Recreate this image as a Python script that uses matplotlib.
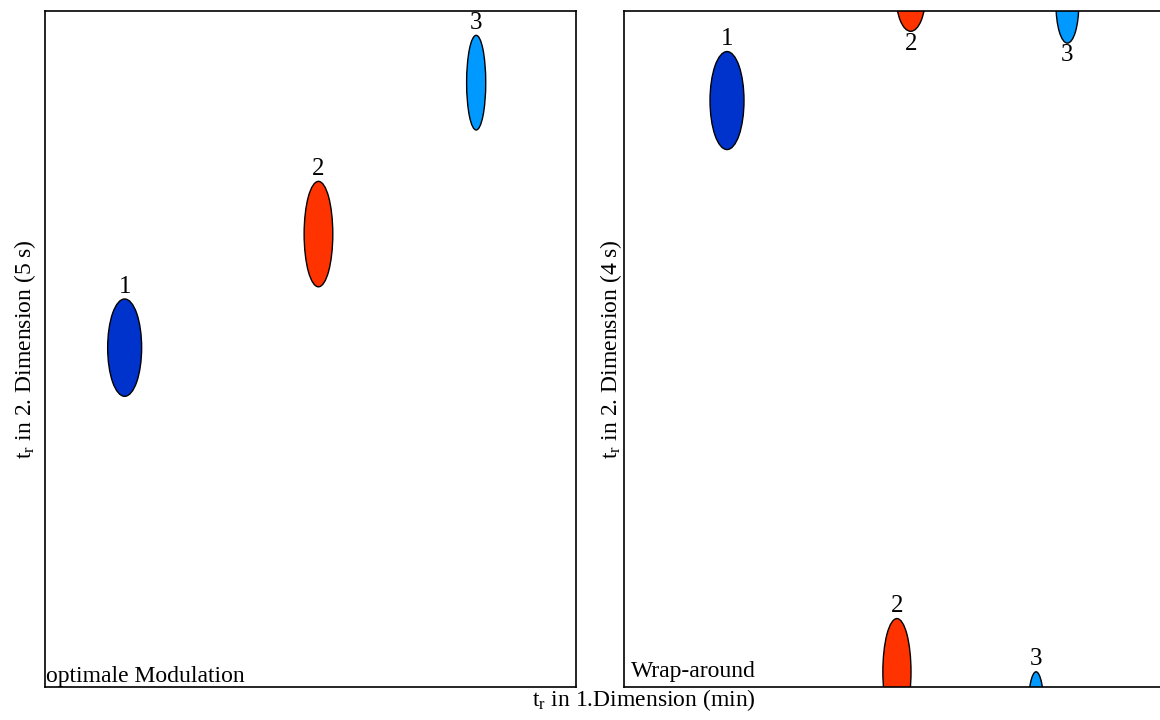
import matplotlib
matplotlib.use('Agg')
import matplotlib.pyplot as plt
from matplotlib.patches import Ellipse

plt.rcParams['font.family'] = ['Liberation Serif', 'DejaVu Serif']
plt.rcParams['mathtext.fontset'] = 'custom'
plt.rcParams['mathtext.rm'] = 'Liberation Serif'

# peak colours, one per compound
colors = ['#0033CC', '#FF3300', '#0099FF']
peak_names = ['1', '2', '3']

# optimal modulation: x in min, y in s (5 s period)
opt_x = [1.50, 5.15, 8.12]
opt_y = [2.51, 3.35, 4.47]
opt_w = [0.64, 0.54, 0.36]
opt_h = [0.72, 0.78, 0.70]

# wrap-around (4 s period): pieces of each peak that show up in the window
wrap_peak = [0, 1, 1, 2, 2]
wrap_x = [1.94, 5.14, 5.40, 7.76, 8.35]
wrap_y = [3.47, 0.09, 4.10, -0.14, 4.04]
wrap_w = [0.64, 0.53, 0.56, 0.30, 0.43]
wrap_h = [0.58, 0.63, 0.44, 0.46, 0.46]

FS = 17


def draw_peaks(ax, idx, xs, ys, ws, hs, ytop):
    for i, x, y, w, h in zip(idx, xs, ys, ws, hs):
        ax.add_patch(Ellipse((x, y), w, h, facecolor=colors[i],
                             edgecolor='black', linewidth=1.0))
        if y + h / 2 < ytop:
            ax.annotate(peak_names[i], xy=(x, y + h / 2), xytext=(0, 1),
                        textcoords='offset points', ha='center', va='bottom',
                        fontsize=18)
        else:
            ax.annotate(peak_names[i], xy=(x, y - h / 2), xytext=(0, -1),
                        textcoords='offset points', ha='center', va='top',
                        fontsize=18)


def style(ax, xmax, ymax):
    ax.set_xlim(0, xmax)
    ax.set_ylim(0, ymax)
    ax.set_xticks([])
    ax.set_yticks([])
    for s in ax.spines.values():
        s.set_linewidth(1.2)


fig = plt.figure(figsize=(11.6, 7.2), dpi=100)
W, H = 1160., 720.

ax1 = fig.add_axes([45 / W, 33 / H, 531 / W, 676 / H])
style(ax1, 10, 5)
draw_peaks(ax1, [0, 1, 2], opt_x, opt_y, opt_w, opt_h, 5)
ax1.text(0.002, 0.0, 'optimale Modulation', transform=ax1.transAxes,
         ha='left', va='bottom', fontsize=FS)
ax1.set_ylabel(r'$\mathregular{t_r}$ in 2. Dimension (5 s)', fontsize=FS,
               labelpad=5)

ax2 = fig.add_axes([624 / W, 33 / H, 542 / W, 676 / H])
style(ax2, 542 / 53.1, 4)
draw_peaks(ax2, wrap_peak, wrap_x, wrap_y, wrap_w, wrap_h, 4)
ax2.text(0.012, 0.008, 'Wrap-around', transform=ax2.transAxes,
         ha='left', va='bottom', fontsize=FS)
ax2.set_ylabel(r'$\mathregular{t_r}$ in 2. Dimension (4 s)', fontsize=FS,
               labelpad=0)

fig.text(644 / W, 1 - 706 / H, r'$\mathregular{t_r}$ in 1.Dimension (min)',
         ha='center', va='baseline', fontsize=FS)

fig.savefig('out.png', dpi=100)
